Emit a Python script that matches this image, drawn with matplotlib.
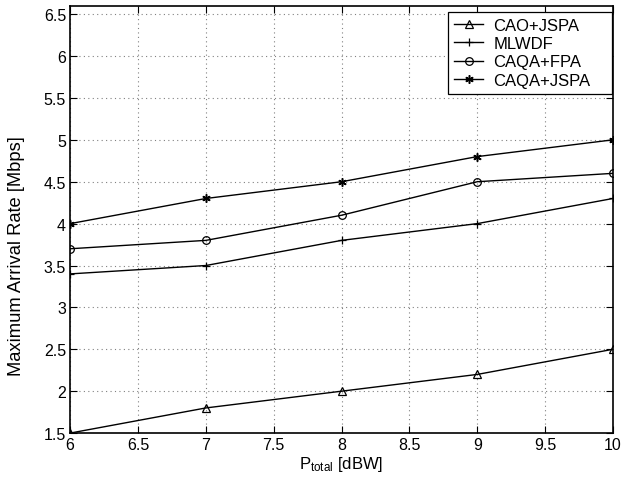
import matplotlib
matplotlib.use("Agg")
import matplotlib.pyplot as plt

plt.rcParams['font.family'] = ['Liberation Sans', 'DejaVu Sans']
plt.rcParams['mathtext.fontset'] = 'custom'
plt.rcParams['mathtext.rm'] = 'Liberation Sans'
plt.rcParams['mathtext.it'] = 'Liberation Sans:italic'

p_total = [6, 7, 8, 9, 10]
cao_jspa = [1.5, 1.8, 2.0, 2.2, 2.5]
mlwdf = [3.4, 3.5, 3.8, 4.0, 4.3]
caqa_fpa = [3.7, 3.8, 4.1, 4.5, 4.6]
caqa_jspa = [4.0, 4.3, 4.5, 4.8, 5.0]

fig = plt.figure(figsize=(6.21, 4.85), dpi=100)
ax = fig.add_axes([0.113, 0.105, 0.874, 0.881])

ax.plot(p_total, cao_jspa, 'k-^', mfc='none', ms=5.5, mew=0.9, lw=1, label='CAO+JSPA')
ax.plot(p_total, mlwdf, 'k-+', ms=5.5, mew=0.9, lw=1, label='MLWDF')
ax.plot(p_total, caqa_fpa, 'k-o', mfc='none', ms=5.5, mew=0.9, lw=1, label='CAQA+FPA')
ax.plot(p_total, caqa_jspa, 'k-', marker=(6, 2, 0), ms=6, mew=1.1, lw=1, label='CAQA+JSPA')

ax.set_xlim(6, 10)
ax.set_ylim(1.5, 6.6)
ax.set_xticks([6, 6.5, 7, 7.5, 8, 8.5, 9, 9.5, 10])
ax.set_xticklabels(['6', '6.5', '7', '7.5', '8', '8.5', '9', '9.5', '10'])
ax.set_yticks([1.5, 2, 2.5, 3, 3.5, 4, 4.5, 5, 5.5, 6, 6.5])
ax.set_yticklabels(['1.5', '2', '2.5', '3', '3.5', '4', '4.5', '5', '5.5', '6', '6.5'])
ax.tick_params(direction='in', top=True, right=True, labelsize=11.5, length=5, pad=3)
ax.grid(True, linestyle=(0, (1, 3)), color='0.5', lw=0.8)
for s in ax.spines.values():
    s.set_linewidth(1.2)

ax.set_xlabel(r'P$_{\mathrm{total}}$ [dBW]', fontsize=12, labelpad=1)
ax.set_ylabel('Maximum Arrival Rate [Mbps]', fontsize=13.2)
ax.yaxis.set_label_coords(-0.083, 0.417)

leg = ax.legend(loc='upper right', bbox_to_anchor=(0.6965, 0.796, 0.302, 0.19),
                mode='expand', fontsize=12, fancybox=False, framealpha=1,
                edgecolor='k', borderaxespad=0, handlelength=1.75,
                handletextpad=0.6, labelspacing=0.2, borderpad=0.36)
leg.get_frame().set_linewidth(0.9)

fig.savefig('out.png', dpi=100)
